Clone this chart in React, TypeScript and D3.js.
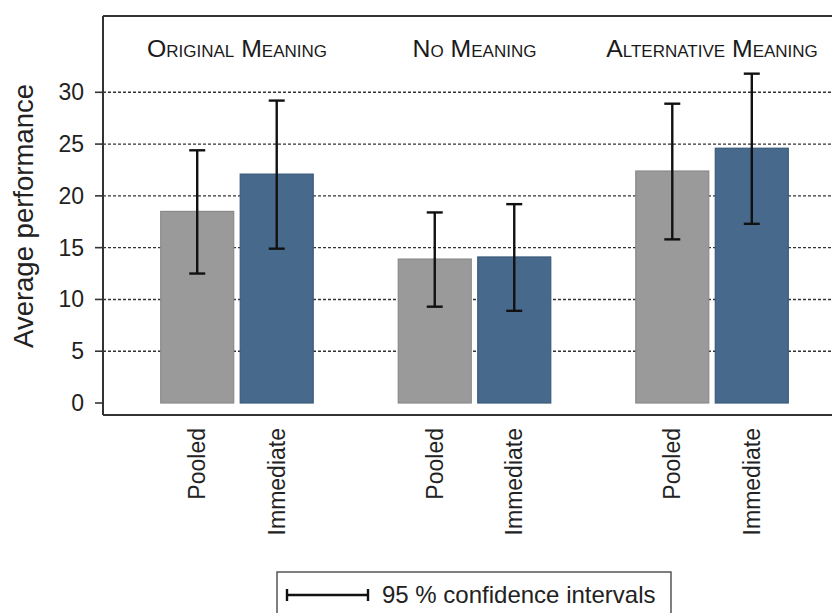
import React from "react";
import * as d3 from "d3";

const groups = ["Original Meaning", "No Meaning", "Alternative Meaning"];
const conditions = ["Pooled", "Immediate"];
const means = [
  [18.5, 22.1],
  [13.9, 14.1],
  [22.4, 24.6],
];
const lowerCI = [
  [12.5, 14.9],
  [9.3, 8.9],
  [15.8, 17.3],
];
const upperCI = [
  [24.4, 29.2],
  [18.4, 19.2],
  [28.9, 31.8],
];
const yTicks = [0, 5, 10, 15, 20, 25, 30];
const legendLabel = "95 % confidence intervals";
const yTitle = "Average performance";

const W = 832;
const H = 613;
const left = 103;
const top = 16;
const bottomAxis = 415;
const right = 846;
const font = "'Liberation Sans', Arial, sans-serif";
const colors = ["#9a9a9a", "#476a8c"];
const strokes = ["#8a8a8a", "#3b5a7a"];

export default function App() {
  const x = d3.scalePoint<string>().domain(groups).range([left, right]).padding(0.564);
  const y = d3.scaleLinear().domain([0, 30]).range([403, 92.3]);
  const barW = 73;
  const gap = 6.5;
  const inner = d3
    .scalePoint<string>()
    .domain(conditions)
    .range([-(barW + gap) / 2, (barW + gap) / 2]);

  return (
    <svg
      width={W}
      height={H}
      style={{ position: "absolute", left: 0, top: 0, background: "#fff" }}
      fontFamily={font}
    >
      {/* gridlines */}
      {yTicks
        .filter((t) => t > 0)
        .map((t) => (
          <line
            key={"g" + t}
            x1={left}
            x2={W}
            y1={y(t)}
            y2={y(t)}
            stroke="#333"
            strokeWidth={1.4}
            strokeDasharray="3,2"
          />
        ))}
      {/* bars */}
      {groups.map((g, gi) =>
        conditions.map((c, ci) => {
          const cx = (x(g) as number) + (inner(c) as number);
          return (
            <rect
              key={g + c}
              x={cx - barW / 2}
              y={y(means[gi][ci])}
              width={barW}
              height={y(0) - y(means[gi][ci])}
              fill={colors[ci]}
              stroke={strokes[ci]}
              strokeWidth={1.2}
            />
          );
        })
      )}
      {/* error bars */}
      {groups.map((g, gi) =>
        conditions.map((c, ci) => {
          const cx = (x(g) as number) + (inner(c) as number);
          const y1 = y(upperCI[gi][ci]);
          const y2 = y(lowerCI[gi][ci]);
          return (
            <g key={"e" + g + c} stroke="#111" strokeWidth={2.4}>
              <line x1={cx} x2={cx} y1={y1} y2={y2} />
              <line x1={cx - 8} x2={cx + 8} y1={y1} y2={y1} />
              <line x1={cx - 8} x2={cx + 8} y1={y2} y2={y2} />
            </g>
          );
        })
      )}
      {/* frame */}
      <line x1={left} x2={W} y1={top} y2={top} stroke="#333" strokeWidth={2} />
      <line x1={left} x2={left} y1={top} y2={bottomAxis} stroke="#333" strokeWidth={2} />
      <line x1={left} x2={W} y1={bottomAxis} y2={bottomAxis} stroke="#333" strokeWidth={2} />
      {/* y ticks */}
      {yTicks.map((t) => (
        <g key={"t" + t}>
          <line x1={95} x2={left} y1={y(t)} y2={y(t)} stroke="#333" strokeWidth={1.6} />
          <text
            x={84}
            y={y(t)}
            dy="0.35em"
            textAnchor="end"
            fontSize={23}
            fill="#222"
          >
            {t}
          </text>
        </g>
      ))}
      {/* y title */}
      <text
        transform={`translate(33, ${216}) rotate(-90)`}
        textAnchor="middle"
        fontSize={27.5}
        fill="#222"
      >
        {yTitle}
      </text>
      {/* group labels */}
      {groups.map((g) => (
        <text
          key={"l" + g}
          x={x(g) as number}
          y={57}
          textAnchor="middle"
          fontSize={24.8}
          fill="#1a1a1a"
          style={{ fontVariant: "small-caps" }}
        >
          {g}
        </text>
      ))}
      {/* x labels */}
      {groups.map((g) =>
        conditions.map((c) => {
          const cx = (x(g) as number) + (inner(c) as number);
          return (
            <text
              key={"x" + g + c}
              transform={`translate(${cx + 8}, 428) rotate(-90)`}
              textAnchor="end"
              fontSize={23}
              fill="#222"
            >
              {c}
            </text>
          );
        })
      )}
      {/* legend */}
      <rect x={277} y={572} width={394} height={60} fill="#fff" stroke="#555" strokeWidth={1.5} />
      <g stroke="#111" strokeWidth={2.4}>
        <line x1={287} x2={368} y1={595} y2={595} />
        <line x1={287} x2={287} y1={589} y2={601} />
        <line x1={368} x2={368} y1={589} y2={601} />
      </g>
      <text x={382} y={603} fontSize={24} fill="#222">
        {legendLabel}
      </text>
    </svg>
  );
}
